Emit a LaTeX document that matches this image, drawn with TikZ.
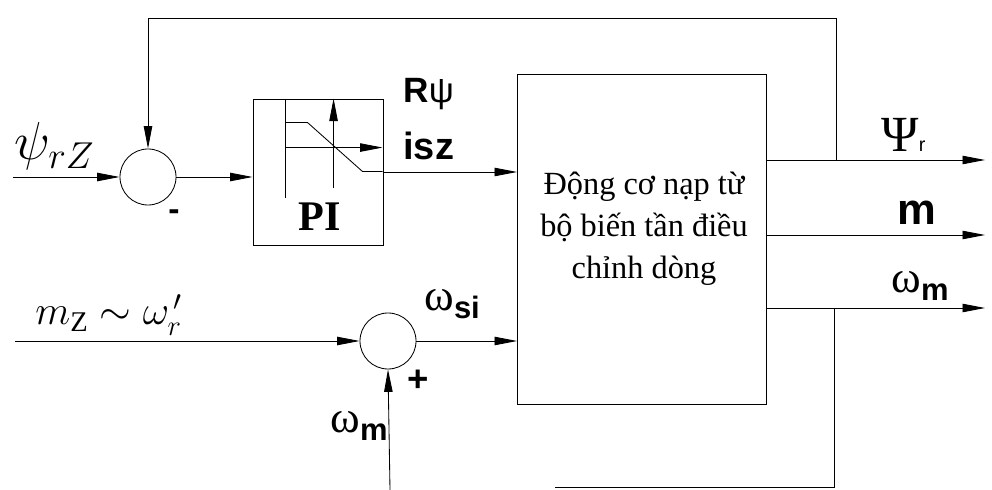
\documentclass[tikz,border=0pt]{standalone}
\usepackage{fix-cm}
\usepackage{fontspec}
\setmainfont{Liberation Serif}
\setsansfont{Liberation Sans}
\usetikzlibrary{arrows.meta,positioning,calc}
\newcommand{\wsig}[1]{ω\raisebox{-5pt}{\sffamily\bfseries\fontsize{22}{22}\selectfont #1}}

\begin{document}
\begin{tikzpicture}[
  x=0.025cm, y=-0.025cm, line width=0.6pt,
  sumnode/.style={draw, circle, minimum size=1.4cm, inner sep=0pt},
  block/.style={draw, rectangle, inner sep=0pt},
  arrow/.style={-{Triangle[length=16pt, width=6pt]}},
  lbl/.style={inner sep=0pt, anchor=base west},
  omega/.style={lbl, font=\fontsize{32}{34}\selectfont}
]
\useasboundingbox (0,0) rectangle (992,490);

\node[sumnode] (sum1) at (148,177) {};
\node[block, minimum width=3.25cm, minimum height=3.65cm] (pi) at (318,172) {};
\node[block, minimum width=6.225cm, minimum height=8.25cm] (motor) at (642,239) {};
\node[sumnode] (sum2) at (388,341) {};
\node[font=\fontsize{23}{30}\selectfont, align=center] (motortext) at (644,229)
  {Động cơ nạp từ\\bộ biến tần điều\\chỉnh dòng};
\node[font=\bfseries\fontsize{30}{32}\selectfont] (pilbl) at (320,217) {PI};

% PI characteristic
\begin{scope}[shift={(pi.north west)}]
  \draw (33,0) -- (33,99);
  \draw[arrow] (33,49) -- (130,49);
  \draw[arrow] (81,89) -- (81,0);
  \draw (33,24) -- (55,24) -- (110,73) -- (130,73);
\end{scope}

\coordinate (inpsi) at (13,177);
\coordinate (inmz) at (15,341);
\coordinate (inwm) at (390,490);
\coordinate (endpsi) at (985,160);
\coordinate (endm) at (985,235);
\coordinate (endw) at (985,308);
\coordinate (tappsi) at (836,160);
\coordinate (tapw) at (834,308);
\coordinate (fbend) at (555,487);

\draw[arrow] (inpsi) -- (sum1.west);
\draw[arrow] (sum1.east) -- (sum1.east -| pi.west);
\draw[arrow] (pi.east) -- (pi.east -| motor.west);
\draw[arrow] (inmz) -- (sum2.west);
\draw[arrow] (sum2.east) -- (sum2.east -| motor.west);
\draw[arrow] (inwm) -- (sum2.south);
\draw[arrow] (motor.east |- endpsi) -- (endpsi);
\draw[arrow] (motor.east |- endm) -- (endm);
\draw[arrow] (motor.east |- endw) -- (endw);
\draw[arrow] (tappsi) -- ++(0,-142) -| (sum1.north);
\draw (tapw) -- ++(0,179) -- (fbend);

% signal labels
\node[lbl, font=\fontsize{38}{40}\selectfont] (lblpsirz) at (14,160) {$\psi_{rZ}$};
\node[lbl, font=\fontsize{29}{30}\selectfont] (lblmz) at (35,325) {$m_{\mathrm{Z}}\sim\omega_{r}^{\,\prime}$};
\node[lbl, font=\sffamily\fontsize{25}{26}\selectfont] (lblrpsi) at (403,103) {\textbf{R}ψ};
\node[lbl, font=\sffamily\bfseries\fontsize{27}{28}\selectfont] (lblisz) at (403,160) {isz};
\node[lbl, font=\fontsize{36}{38}\selectfont] (lblpsir) at (881,152) {Ψ{\sffamily\fontsize{14}{14}\selectfont r}};
\node[lbl, font=\sffamily\bfseries\fontsize{31}{32}\selectfont] (lblm) at (897,225) {m};
\node[omega] (lblwout) at (891,293) {\wsig{m}};
\node[omega] (lblwsi) at (424,311) {\wsig{si}};
\node[omega] (lblwin) at (330,433) {\wsig{m}};
\node[font=\sffamily\bfseries\fontsize{24}{24}\selectfont] (minus) at (174,215) {-};
\node[font=\sffamily\bfseries\fontsize{26}{26}\selectfont] (plus) at (418,381) {+};
\end{tikzpicture}
\end{document}
